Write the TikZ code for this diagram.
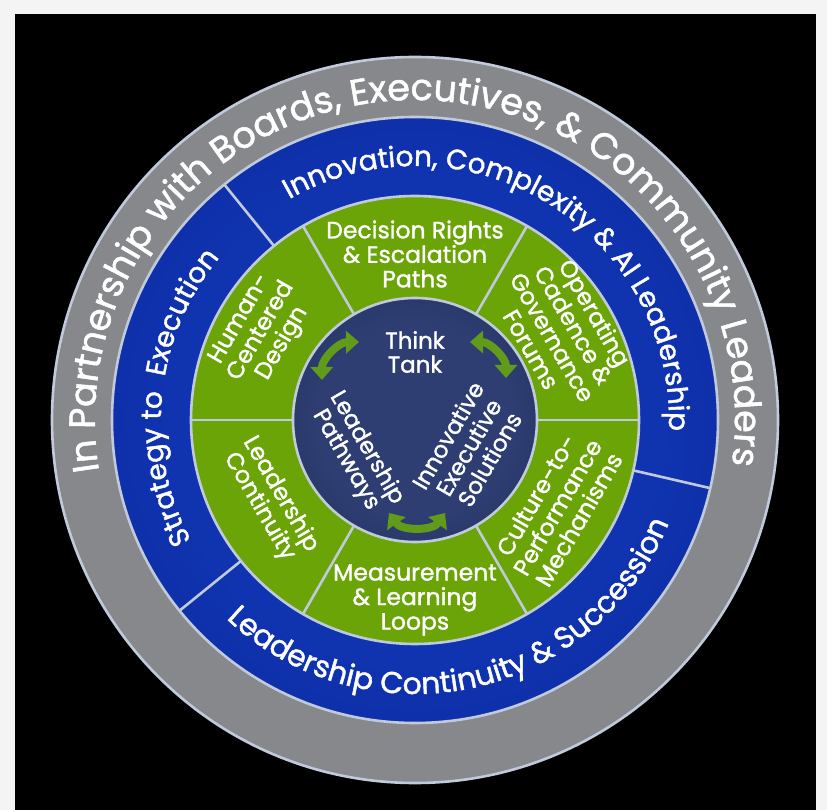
\documentclass[tikz,border=0pt]{standalone}
\usepackage{fontspec}
\setmainfont{Poppins}[FakeBold=1.4]
\usepackage{xcolor}
\usepackage{tikz}
\usetikzlibrary{arrows.meta,decorations.text}

\definecolor{framegray}{RGB}{244,244,244}
\definecolor{ringgray}{RGB}{135,136,140}
\definecolor{ringblue}{RGB}{20,64,196}
\definecolor{ringbluedark}{RGB}{12,40,158}
\definecolor{ringgreen}{RGB}{106,164,6}
\definecolor{ringgreendark}{RGB}{62,126,24}
\definecolor{corenavy}{RGB}{46,62,114}
\definecolor{corenavydark}{RGB}{27,35,80}
\definecolor{edgeline}{RGB}{192,202,218}
\definecolor{loopgreen}{RGB}{98,154,26}

\pgfdeclareradialshading{blueband}{\pgfpoint{0bp}{0bp}}{color(0bp)=(ringblue); color(37bp)=(ringbluedark); color(43.5bp)=(ringblue); color(50bp)=(ringbluedark)}
\pgfdeclareradialshading{greenband}{\pgfpoint{0bp}{0bp}}{color(0bp)=(ringgreen); color(27.2bp)=(ringgreen); color(50bp)=(ringgreendark)}
\pgfdeclareradialshading{coredisc}{\pgfpoint{0bp}{0bp}}{color(0bp)=(corenavy); color(20bp)=(corenavy); color(50bp)=(corenavydark)}

\tikzset{
  sep line/.style={edgeline, line width=2.6pt},
  ring text/.style={white, font=\fontsize{23.5}{24.5}\selectfont, align=center, inner sep=0pt},
  core text/.style={white, font=\fontsize{23}{24}\selectfont, align=center, inner sep=0pt},
  loop arrow/.style={loopgreen, line width=8pt, {Triangle[width=22pt,length=13pt]}-{Triangle[width=22pt,length=13pt]}},
  band text/.style={decorate, decoration={text along path, text align=center, text color=white, text={#1}}}
}

\begin{document}
\begin{tikzpicture}[x=1pt,y=1pt]
\def\rcore{122}
\def\rgreen{224}
\def\rblue{303}
\def\rgray{363}

% Frame and black panel
\useasboundingbox (-415,-390) rectangle (412,420);
\fill[framegray] (-415,-390) rectangle (412,420);
\fill[black] (-400,-390) rectangle (401,406);

% Rings, from outside in
\fill[ringgray] (0,0) circle (\rgray);
\shade[shading=blueband] (0,0) circle (\rblue);
\shade[shading=greenband] (0,0) circle (\rgreen);
\shade[shading=coredisc] (0,0) circle (\rcore);

% Ring borders
\foreach \r in {\rcore,\rgreen,\rblue,\rgray} {
    \draw[sep line] (0,0) circle (\r);
}

% Green sector dividers
\foreach \a in {0,60,...,300} {
    \draw[sep line] (\a:\rcore) -- (\a:\rgreen);
}

% Blue sector dividers
\foreach \a in {129,219,347} {
    \draw[sep line] (\a:\rgreen) -- (\a:\rblue);
}

% Outer ring text
\path[band text={|\fontsize{36.5}{40}\selectfont|In Partnership with Boards, Executives, {\&} Community Leaders}]
    (215:320) arc[start angle=215, end angle=-34, radius=320];

% Blue ring texts
\path[band text={|\fontsize{28}{30}\selectfont|Innovation, Complexity {\&} AI Leadership}]
    (138.6:254) arc[start angle=138.6, end angle=-21.4, radius=254];
\path[band text={|\fontsize{28}{30}\selectfont|Strategy to {\ }Execution}]
    (219.3:254) arc[start angle=219.3, end angle=129.3, radius=254];
\path[band text={|\fontsize{30}{32}\selectfont|Leadership Continuity {\&} Succession}]
    (212.2:274) arc[start angle=212.2, end angle=352.2, radius=274];

% Green sectors
\node[ring text] (decision) at (0,166) {Decision Rights\\\& Escalation\\Paths};
\node[ring text, rotate=-60] (cadence) at (31:173) {Operating\\Cadence \&\\Governance\\Forums};
\node[ring text, rotate=60] (culture) at (-31.5:167) {Culture-to-\\Performance\\Mechanisms};
\node[ring text] (measure) at (0,-180) {Measurement\\\& Learning\\Loops};
\node[ring text, rotate=-60] (continuity) at (209:166) {Leadership\\Continuity};
\node[ring text, rotate=60] (human) at (150:177) {Human-\\Centered\\Design};

% Core
\node[core text] (think) at (0,68) {Think\\Tank};
\node[core text, rotate=-60] (pathways) at (210:68) {Leadership\\Pathways};
\node[core text, rotate=60] (solutions) at (-27:60) {Innovative\\Executive\\Solutions};

% Cycle arrows
\coordinate (left lo) at (-93,40);
\coordinate (left hi) at (-56,78);
\coordinate (right hi) at (55,78);
\coordinate (right lo) at (91,42);
\coordinate (base l) at (-26,-93);
\coordinate (base r) at (30,-93);
\draw[loop arrow] (left lo) to[bend left=45] (left hi);
\draw[loop arrow] (right hi) to[bend left=45] (right lo);
\draw[loop arrow] (base l) to[bend right=55] (base r);

\end{tikzpicture}
\end{document}
